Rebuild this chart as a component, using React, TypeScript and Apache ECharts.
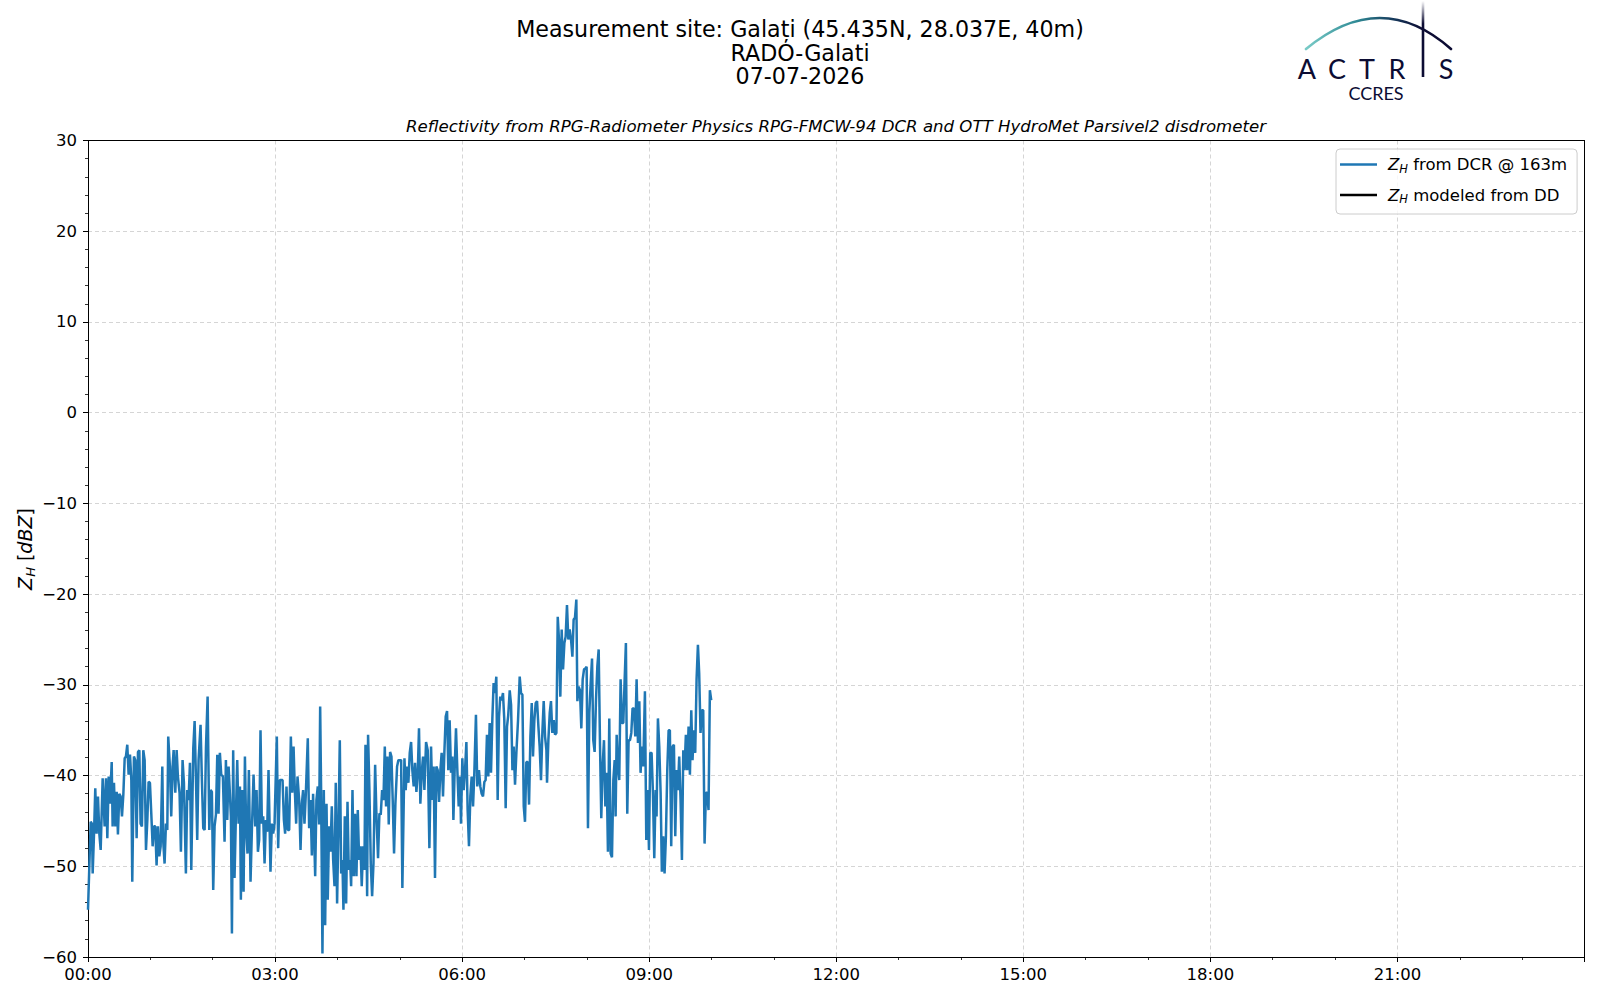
import React, { useEffect, useRef } from "react";
import * as echarts from "echarts";

const FONT = "DejaVu Sans";
const NAVY = "#0c0c33";

// Title texts
const titleLines = [
  "Measurement site: Galați (45.435N, 28.037E, 40m)",
  "RADO-Galati",
  "07-07-2026",
];
const subtitle =
  "Reflectivity from RPG-Radiometer Physics RPG-FMCW-94 DCR and OTT HydroMet Parsivel2 disdrometer";

// Axis settings (minutes since midnight on x, dBZ on y)
const xMin = 0;
const xMax = 1440;
const xStep = 180;
const yMin = -60;
const yMax = 30;
const yStep = 10;

const seriesNames = ["Z_H from DCR @ 163m", "Z_H modeled from DD"];

// DCR reflectivity [minute, dBZ]
const dcrSeg1: [number, number][] = [
  [0, -54.8], [2.6, -45.1], [3.8, -45.3], [4.5, -50.8], [5.8, -46.4], [7.0, -41.4], [8.3, -46.4], [9.6, -42.3],
  [10.9, -46.4], [12.2, -48.2], [14.1, -40.3], [16.0, -45.6], [17.3, -40.3], [18.6, -46.9], [19.9, -40.1],
  [21.2, -43.1], [22.8, -38.5], [23.7, -45.6], [25.0, -40.8], [26.3, -45.6], [27.6, -41.8], [28.8, -46.5],
  [30.1, -42.0], [31.4, -42.3], [32.7, -44.5], [34.0, -42.1], [35.3, -38.1], [36.5, -37.9], [37.8, -36.6],
  [39.1, -39.9], [40.4, -37.7], [41.7, -40.5], [42.6, -51.7], [44.2, -37.9], [45.5, -38.3], [46.8, -46.9],
  [48.1, -37.4], [49.4, -37.2], [50.6, -45.3], [51.9, -45.6], [53.2, -37.2], [54.5, -38.3], [55.8, -48.2],
  [57.1, -44.9], [58.3, -40.7], [59.6, -40.8], [60.9, -44.2], [62.2, -47.8], [63.5, -45.6], [64.7, -45.6],
  [66.0, -49.9], [67.3, -45.6], [68.6, -48.9], [69.9, -47.8], [71.5, -39.0], [72.4, -47.3], [73.7, -49.7],
  [75.0, -45.3], [76.3, -46.0], [77.2, -35.7], [78.8, -39.0], [80.1, -44.5], [81.4, -39.0], [82.4, -37.2],
  [84.0, -41.9], [85.3, -37.2], [86.5, -40.1], [88.1, -41.9], [89.4, -48.4], [91.0, -38.3], [92.3, -40.8],
  [94.2, -50.8], [95.5, -41.6], [96.8, -42.7], [98.1, -38.6], [99.4, -50.4],
];
const dcrSeg2: [number, number][] = [
  [101.3, -37.0], [102.6, -34.0], [103.9, -40.5], [105.1, -47.1], [106.4, -38.3], [108.3, -34.4], [109.6, -40.5],
  [110.9, -45.8], [112.2, -46.0], [113.5, -37.0], [115.1, -31.3], [116.7, -46.0], [118.0, -41.6], [119.2, -41.8],
  [120.5, -52.6], [121.8, -45.6], [123.1, -44.3], [124.4, -37.7], [125.6, -44.2], [126.9, -37.5], [128.2, -39.9],
  [129.8, -40.1], [131.4, -47.3], [132.7, -38.3], [134.0, -44.9], [135.3, -39.0], [136.5, -41.9], [137.5, -44.5],
  [138.5, -57.4], [139.7, -37.2], [141.0, -51.3], [142.3, -44.5], [143.6, -38.3], [144.9, -45.3], [146.2, -41.2],
  [147.1, -53.7], [148.4, -41.6], [149.7, -52.8], [151.0, -37.9], [152.2, -46.0], [153.5, -48.6], [154.8, -39.4],
  [156.4, -51.7], [157.7, -46.0], [159.3, -39.9], [160.9, -45.6], [162.2, -41.6], [163.5, -48.4], [164.7, -47.1],
  [166.0, -35.0], [167.3, -45.3], [168.6, -44.5], [169.9, -49.7], [171.2, -44.9], [172.4, -46.2], [173.7, -39.4],
  [175.6, -50.6], [176.9, -45.3], [178.2, -46.4], [179.5, -45.3], [181.7, -35.7], [183.0, -48.0], [184.6, -40.5],
  [185.9, -40.5], [187.2, -40.5], [188.5, -44.9], [189.7, -46.4], [191.0, -41.2], [192.3, -46.0], [193.6, -46.0],
  [195.2, -35.7], [196.5, -41.9], [197.8, -36.8], [199.0, -41.6], [200.3, -45.3], [201.6, -40.1],
];
const dcrSeg3: [number, number][] = [
  [203.2, -42.7], [204.5, -48.2], [205.8, -43.1], [207.0, -41.6], [208.3, -45.3], [209.6, -42.0], [211.5, -35.9],
  [212.8, -45.8], [214.1, -42.7], [215.4, -48.8], [216.6, -42.0], [218.6, -51.1], [219.8, -42.7], [221.1, -41.2],
  [222.4, -45.4], [223.4, -32.4], [224.3, -41.6], [225.6, -59.6], [226.9, -41.6], [228.2, -56.5], [229.5, -43.1],
  [230.7, -53.7], [232.0, -45.6], [233.3, -48.4], [234.6, -43.4], [235.9, -49.3], [237.2, -52.2], [238.4, -40.8],
  [239.7, -54.1], [241.0, -45.6], [242.3, -36.1], [243.6, -50.8], [244.8, -49.3], [245.8, -54.8], [247.1, -44.5],
  [248.4, -54.1], [249.7, -42.9], [250.9, -50.4], [252.2, -49.3], [253.2, -52.2], [254.5, -41.6], [255.7, -51.1],
  [257.0, -44.2], [258.3, -51.1], [259.6, -43.8], [260.9, -49.3], [262.2, -47.8], [263.4, -52.2], [264.7, -47.8],
  [266.0, -50.4], [267.0, -36.6], [268.6, -53.3], [269.5, -35.5], [270.8, -41.6], [272.1, -49.7], [273.4, -53.3],
  [274.7, -49.7], [276.3, -38.8], [277.5, -44.2], [279.1, -49.1], [280.4, -44.2], [281.7, -44.3], [283.0, -41.6],
  [284.3, -42.7], [285.6, -36.8], [286.8, -43.4], [288.1, -37.9], [289.4, -45.4], [290.7, -37.4], [292.0, -37.9],
  [293.2, -42.7], [294.5, -48.6], [295.8, -43.1], [297.4, -39.0], [298.7, -38.3], [300.0, -38.3], [301.3, -38.3],
  [302.5, -52.4],
];
const dcrSeg4: [number, number][] = [
  [304.5, -38.1], [305.7, -41.6], [307.0, -39.0], [308.3, -40.8], [309.6, -37.5], [310.9, -36.3], [312.1, -39.4],
  [313.4, -41.2], [314.7, -38.6], [316.0, -41.8], [317.3, -39.7], [318.5, -34.8], [319.8, -43.1], [321.1, -39.7],
  [322.4, -37.9], [323.7, -41.6], [325.3, -36.3], [326.9, -37.2], [328.5, -48.0], [330.1, -36.8], [331.4, -42.7],
  [332.6, -39.0], [333.9, -51.3], [335.2, -39.0], [336.5, -39.4], [337.8, -42.9], [339.1, -39.4], [340.3, -37.5],
  [341.6, -42.3], [342.9, -37.5], [344.2, -33.5], [345.5, -32.9], [346.7, -39.4], [348.0, -33.9], [349.3, -39.7],
  [350.6, -37.9], [351.6, -44.9], [352.8, -39.4], [354.1, -34.8], [355.4, -39.4], [356.7, -43.4], [358.0, -40.1],
  [358.9, -45.3], [360.2, -38.1], [361.5, -41.6], [362.8, -39.4], [364.1, -36.3], [365.3, -43.8], [366.6, -47.8],
  [367.9, -42.3], [369.2, -40.1], [370.5, -43.4], [371.7, -39.9], [373.3, -33.3], [374.6, -41.2], [376.2, -39.4],
  [377.5, -41.2], [378.8, -42.0], [380.1, -42.3], [381.4, -40.7], [382.6, -40.5], [383.9, -35.5], [385.2, -40.1],
  [386.5, -34.2], [387.8, -39.7], [389.1, -33.7], [390.3, -29.8], [391.6, -30.9], [392.9, -29.1], [394.2, -42.7],
  [395.5, -33.5], [396.7, -31.3], [398.0, -31.7], [399.3, -30.9], [400.6, -33.9], [401.9, -43.6], [403.2, -34.6],
  [404.4, -33.3],
];
const dcrSeg5: [number, number][] = [
  [405.8, -30.6], [407.1, -32.2], [408.4, -39.4], [409.6, -36.8], [410.9, -41.0], [412.2, -37.5], [413.8, -33.9],
  [415.4, -29.1], [416.7, -30.9], [418.0, -31.1], [419.3, -43.4], [420.5, -45.1], [421.8, -38.5], [423.1, -38.5],
  [424.4, -43.2], [425.7, -35.7], [427.0, -32.0], [428.2, -37.9], [429.5, -33.9], [430.8, -32.0], [432.1, -31.8],
  [433.4, -34.6], [434.6, -36.8], [435.9, -40.5], [437.2, -35.3], [438.5, -31.8], [439.8, -35.7], [441.1, -37.2],
  [441.7, -40.8], [443.0, -36.1], [444.3, -33.1], [445.5, -31.8], [446.8, -35.3], [448.1, -33.9], [449.4, -35.5],
  [450.7, -35.3], [452.0, -22.5], [453.2, -25.0], [454.5, -31.3], [455.8, -23.9], [457.1, -28.3], [458.4, -25.4],
  [459.6, -24.7], [460.9, -21.2], [462.2, -25.0], [463.5, -23.9], [464.8, -25.0], [466.1, -26.9], [467.3, -22.8],
  [468.6, -22.6], [469.9, -20.6], [470.9, -31.8], [472.1, -30.2], [473.4, -30.6], [474.7, -34.8], [476.0, -29.4],
  [477.3, -28.3], [478.6, -28.2], [479.8, -28.0], [481.1, -45.8], [482.4, -33.1], [483.7, -29.8], [485.0, -27.1],
  [486.2, -36.1], [487.5, -37.4], [488.8, -31.7], [490.1, -28.0], [491.4, -26.1], [492.7, -36.8], [493.9, -44.7],
  [495.2, -39.0], [496.5, -36.1], [497.8, -43.4], [499.1, -39.7], [500.3, -48.4], [501.6, -33.7], [502.9, -48.6],
  [504.2, -49.0], [505.5, -40.5], [506.8, -38.3],
];
const dcrSeg6: [number, number][] = [
  [507.7, -44.5], [508.7, -35.5], [509.9, -39.0], [511.2, -40.5], [512.5, -29.4], [513.8, -34.2], [515.1, -34.2],
  [516.4, -29.4], [517.6, -25.4], [518.9, -44.2], [520.2, -36.1], [521.5, -36.1], [522.8, -35.3], [524.0, -32.6],
  [525.3, -32.6], [526.6, -35.7], [527.9, -29.4], [529.2, -36.4], [530.5, -31.8], [531.7, -39.7], [533.0, -36.8],
  [534.3, -39.0], [535.9, -30.7], [537.2, -47.1], [538.5, -41.6], [539.8, -48.2], [541.0, -37.5], [542.3, -37.5],
  [543.6, -41.9], [544.9, -49.1], [546.2, -41.6], [547.1, -44.5], [548.4, -33.7], [549.7, -36.8], [551.0, -41.9],
  [552.2, -50.6], [553.5, -46.7], [554.8, -50.8], [556.1, -46.7], [557.4, -39.4], [558.7, -35.0], [559.9, -35.0],
  [561.2, -47.8], [562.5, -36.8], [563.8, -36.6], [565.1, -46.7], [566.4, -39.4], [567.6, -41.6], [568.9, -37.9],
  [570.2, -42.7], [571.5, -49.3], [572.8, -37.2], [574.0, -39.4], [575.3, -35.5], [576.6, -39.4], [577.9, -34.6],
  [579.2, -39.9], [580.5, -32.8], [581.7, -38.3], [583.0, -35.0], [584.3, -37.5], [585.6, -29.4], [586.9, -25.6],
  [588.1, -28.7], [589.4, -35.3], [590.7, -32.8], [592.0, -32.8], [593.3, -47.5], [594.6, -41.9], [595.8, -41.9],
  [597.1, -43.8], [598.4, -30.6], [599.7, -31.7],
];
// Disdrometer-modelled reflectivity: no data for this day
const ddModeled: [number, number][] = [];

// Logo letters
const logoLetters = ["A", "C", "T", "R", "S"];
const logoLetterX = [1307, 1337, 1367, 1397, 1446];

const pad2 = (n: number) => (n < 10 ? "0" + n : "" + n);

const subRich = {
  i: { fontFamily: FONT, fontStyle: "italic", fontSize: 16.5, color: "#000", verticalAlign: "middle", lineHeight: 20 },
  s: { fontFamily: FONT, fontStyle: "italic", fontSize: 11.5, color: "#000", verticalAlign: "bottom", lineHeight: 20 },
  n: { fontFamily: FONT, fontSize: 16.5, color: "#000", verticalAlign: "middle", lineHeight: 20 },
  g: { width: 6, lineHeight: 20 },
};

const spineAxis = {
  axisLine: { show: true, onZero: false, lineStyle: { color: "#000", width: 1 } },
  axisTick: { show: false },
  axisLabel: { show: false },
  splitLine: { show: false },
};

export default function App() {
  const ref = useRef<HTMLDivElement>(null);

  useEffect(() => {
    if (!ref.current) return;
    const chart = echarts.init(ref.current, undefined, { renderer: "svg" });

    const dcr = [...dcrSeg1, ...dcrSeg2, ...dcrSeg3, ...dcrSeg4, ...dcrSeg5, ...dcrSeg6];

    const graphic: any[] = [];
    const titleY = [29, 52.5, 76];
    titleLines.forEach((t, k) => {
      graphic.push({
        type: "text",
        x: 800,
        y: titleY[k],
        style: { text: t, fontFamily: FONT, fontSize: 22.2, fill: "#000", align: "center", verticalAlign: "middle" },
      });
    });
    graphic.push({
      type: "text",
      x: 836,
      y: 126.5,
      style: {
        text: subtitle,
        fontFamily: FONT,
        fontStyle: "italic",
        fontSize: 16.6,
        fill: "#000",
        align: "center",
        verticalAlign: "middle",
      },
    });
    // y axis label
    graphic.push({
      type: "text",
      x: 25,
      y: 549,
      rotation: Math.PI / 2,
      style: {
        text: "{i|Z}{s|H}{n| [}{i|dBZ}{n|]}",
        align: "center",
        verticalAlign: "middle",
        rich: {
          i: { fontFamily: FONT, fontStyle: "italic", fontSize: 19, fill: "#000", verticalAlign: "middle", lineHeight: 24 },
          s: { fontFamily: FONT, fontStyle: "italic", fontSize: 13, fill: "#000", verticalAlign: "bottom", lineHeight: 24 },
          n: { fontFamily: FONT, fontSize: 19, fill: "#000", verticalAlign: "middle", lineHeight: 24 },
        },
      },
    });
    // ACTRIS logo
    graphic.push({
      type: "bezierCurve",
      shape: { x1: 1306, y1: 49, x2: 1451, y2: 49, cpx1: 1381, cpy1: -13 },
      style: {
        fill: "none",
        lineWidth: 2.6,
        lineCap: "round",
        stroke: new echarts.graphic.LinearGradient(
          1306, 0, 1451, 0,
          [
            { offset: 0, color: "#79cbc7" },
            { offset: 0.35, color: "#2f8a95" },
            { offset: 0.6, color: "#163a5c" },
            { offset: 0.8, color: NAVY },
            { offset: 1, color: NAVY },
          ],
          true
        ),
      },
    });
    graphic.push({
      type: "line",
      shape: { x1: 1423, y1: 1, x2: 1423, y2: 77 },
      style: {
        lineWidth: 2.6,
        stroke: new echarts.graphic.LinearGradient(
          0, 1, 0, 77,
          [
            { offset: 0, color: "rgba(12,12,51,0)" },
            { offset: 0.3, color: NAVY },
            { offset: 1, color: NAVY },
          ],
          true
        ),
      },
    });
    logoLetters.forEach((ch, k) => {
      graphic.push({
        type: "text",
        x: logoLetterX[k],
        y: 68,
        style: { text: ch, fontFamily: "Lato", fontSize: 27, fill: NAVY, align: "center", verticalAlign: "middle" },
      });
    });
    graphic.push({
      type: "text",
      x: 1376,
      y: 93,
      style: { text: "CCRES", fontFamily: "Lato", fontSize: 18, fill: NAVY, align: "center", verticalAlign: "middle" },
    });

    const option: any = {
      animation: false,
      backgroundColor: "#ffffff",
      grid: {
        left: 88,
        top: 140.5,
        right: 15.5,
        bottom: 43,
        show: false,
      },
      legend: {
        orient: "vertical",
        left: 1336,
        top: 149,
        icon: "rect",
        itemWidth: 37,
        itemHeight: 2.5,
        itemGap: 12,
        padding: [7, 10, 9, 4],
        borderColor: "#cccccc",
        borderWidth: 1,
        borderRadius: 4,
        backgroundColor: "rgba(255,255,255,0.8)",
        data: seriesNames,
        textStyle: { fontFamily: FONT, fontSize: 16.5, color: "#000", rich: subRich },
        formatter: (name: string) =>
          name === seriesNames[0]
            ? "{g|}{i|Z}{s|H}{n| from DCR @ 163m}"
            : "{g|}{i|Z}{s|H}{n| modeled from DD}",
      },
      graphic,
      xAxis: [
        {
          type: "value",
          min: xMin,
          max: xMax,
          interval: xStep,
          axisLine: { show: true, onZero: false, lineStyle: { color: "#000", width: 1 } },
          axisTick: { show: true, length: 5, lineStyle: { color: "#000", width: 1 } },
          minorTick: { show: true, splitNumber: 3, length: 3, lineStyle: { color: "#000", width: 0.8 } },
          splitLine: { show: true, lineStyle: { color: "#d0d0d0", width: 0.9, type: [4, 3] } },
          axisLabel: {
            fontFamily: FONT,
            fontSize: 16.5,
            color: "#000",
            margin: 9,
            formatter: (v: number) => (v >= xMax ? "" : pad2(Math.floor(v / 60)) + ":" + pad2(v % 60)),
          },
        },
        { type: "value", position: "top", min: xMin, max: xMax, ...spineAxis },
      ],
      yAxis: [
        {
          type: "value",
          min: yMin,
          max: yMax,
          interval: yStep,
          axisLine: { show: true, onZero: false, lineStyle: { color: "#000", width: 1 } },
          axisTick: { show: true, length: 5, lineStyle: { color: "#000", width: 1 } },
          minorTick: { show: true, splitNumber: 5, length: 3, lineStyle: { color: "#000", width: 0.8 } },
          splitLine: { show: true, lineStyle: { color: "#d0d0d0", width: 0.9, type: [4, 3] } },
          axisLabel: {
            fontFamily: FONT,
            fontSize: 16.5,
            color: "#000",
            margin: 11,
            formatter: (v: number) => (v < 0 ? "\u2212" + Math.abs(v) : "" + v),
          },
        },
        { type: "value", position: "right", min: yMin, max: yMax, ...spineAxis },
      ],
      series: [
        {
          name: seriesNames[0],
          type: "line",
          xAxisIndex: 0,
          yAxisIndex: 0,
          data: dcr,
          color: "#1f77b4",
          showSymbol: false,
          symbol: "none",
          lineStyle: { color: "#1f77b4", width: 2.5 },
          emphasis: { disabled: true },
        },
        {
          name: seriesNames[1],
          type: "line",
          xAxisIndex: 0,
          yAxisIndex: 0,
          data: ddModeled,
          color: "#000000",
          showSymbol: false,
          symbol: "none",
          lineStyle: { color: "#000000", width: 2.5 },
        },
      ],
    };

    chart.setOption(option);
    return () => chart.dispose();
  }, []);

  return (
    <div
      ref={ref}
      style={{ position: "fixed", left: 0, top: 0, width: 1600, height: 1000, background: "#fff" }}
    />
  );
}
